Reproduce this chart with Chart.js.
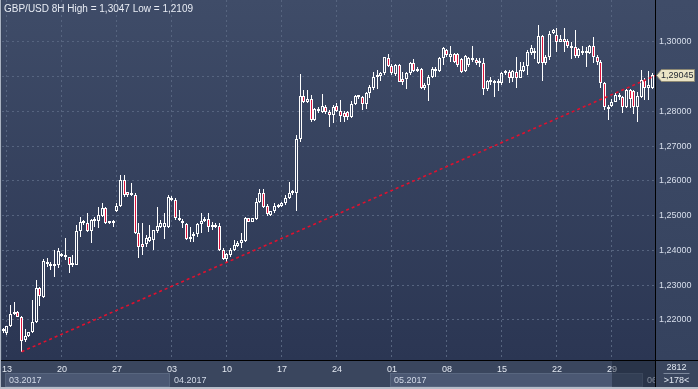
<!DOCTYPE html>
<html>
<head>
<meta charset="utf-8">
<title>GBP/USD 8H</title>
<script src="https://cdn.jsdelivr.net/npm/chart.js@4.4.1/dist/chart.umd.min.js"></script>
<style>
    html, body { margin: 0; padding: 0; background: #3a465e; overflow: hidden; }
    canvas { display: block; }
</style>
</head>
<body>
<canvas id="price-chart" width="698" height="389"></canvas>
<script>
// ============================================
// Chart data: GBP/USD 8-hour candles (10.03.2017 - 01.06.2017)
// ============================================

const opens = [
    1.2169, 1.2164, 1.2183, 1.2217, 1.2223, 1.2210, 1.2143, 1.2154, 1.2165, 1.2194,
    1.2293, 1.2267, 1.2368, 1.2358, 1.2355, 1.2357, 1.2389, 1.2380, 1.2380, 1.2358,
    1.2359, 1.2456, 1.2480, 1.2480, 1.2457, 1.2486, 1.2486, 1.2500, 1.2521, 1.2479,
    1.2484, 1.2514, 1.2528, 1.2603, 1.2567, 1.2566, 1.2559, 1.2449, 1.2418, 1.2418,
    1.2428, 1.2430, 1.2457, 1.2468, 1.2468, 1.2468, 1.2550, 1.2545, 1.2492, 1.2486,
    1.2476, 1.2432, 1.2442, 1.2447, 1.2476, 1.2489, 1.2489, 1.2467, 1.2470, 1.2470,
    1.2401, 1.2376, 1.2387, 1.2401, 1.2414, 1.2421, 1.2427, 1.2492, 1.2483, 1.2491,
    1.2538, 1.2564, 1.2529, 1.2502, 1.2512, 1.2524, 1.2529, 1.2536, 1.2550, 1.2564,
    1.2564, 1.2719, 1.2844, 1.2826, 1.2835, 1.2775, 1.2808, 1.2799, 1.2813, 1.2797,
    1.2789, 1.2815, 1.2801, 1.2794, 1.2797, 1.2785, 1.2821, 1.2844, 1.2842, 1.2820,
    1.2852, 1.2866, 1.2898, 1.2902, 1.2909, 1.2952, 1.2931, 1.2906, 1.2933, 1.2893,
    1.2893, 1.2909, 1.2938, 1.2917, 1.2923, 1.2866, 1.2877, 1.2898, 1.2923, 1.2917,
    1.2952, 1.2975, 1.2957, 1.2964, 1.2964, 1.2950, 1.2916, 1.2933, 1.2954, 1.2947,
    1.2938, 1.2938, 1.2864, 1.2885, 1.2888, 1.2880, 1.2880, 1.2916, 1.2914, 1.2895,
    1.2914, 1.2897, 1.2916, 1.2931, 1.2969, 1.2967, 1.2938, 1.3016, 1.2938, 1.2955,
    1.3024, 1.3019, 1.3000, 1.3007, 1.3003, 1.2981, 1.2984, 1.2959, 1.2974, 1.2967,
    1.2967, 1.2988, 1.2957, 1.2943, 1.2880, 1.2813, 1.2816, 1.2828, 1.2847, 1.2840,
    1.2813, 1.2861, 1.2859, 1.2813, 1.2842, 1.2890, 1.2868, 1.2866
];

const highs = [
    1.2176, 1.2184, 1.2242, 1.2252, 1.2227, 1.2212, 1.2173, 1.2166, 1.2258, 1.2315,
    1.2296, 1.2376, 1.2377, 1.2366, 1.2401, 1.2406, 1.2392, 1.2435, 1.2382, 1.2387,
    1.2473, 1.2497, 1.2488, 1.2507, 1.2489, 1.2497, 1.2526, 1.2535, 1.2526, 1.2481,
    1.2488, 1.2537, 1.2617, 1.2617, 1.2569, 1.2595, 1.2564, 1.2478, 1.2478, 1.2444,
    1.2473, 1.2460, 1.2524, 1.2488, 1.2509, 1.2559, 1.2557, 1.2550, 1.2516, 1.2489,
    1.2478, 1.2468, 1.2454, 1.2478, 1.2509, 1.2497, 1.2509, 1.2483, 1.2480, 1.2480,
    1.2406, 1.2392, 1.2406, 1.2430, 1.2427, 1.2449, 1.2497, 1.2494, 1.2494, 1.2550,
    1.2577, 1.2577, 1.2533, 1.2514, 1.2536, 1.2533, 1.2540, 1.2558, 1.2598, 1.2574,
    1.2732, 1.2907, 1.2861, 1.2861, 1.2847, 1.2810, 1.2813, 1.2850, 1.2818, 1.2804,
    1.2818, 1.2823, 1.2832, 1.2801, 1.2801, 1.2830, 1.2847, 1.2845, 1.2844, 1.2856,
    1.2876, 1.2914, 1.2919, 1.2914, 1.2957, 1.2964, 1.2935, 1.2935, 1.2935, 1.2914,
    1.2914, 1.2941, 1.2950, 1.2928, 1.2925, 1.2880, 1.2904, 1.2928, 1.2928, 1.2957,
    1.2986, 1.2978, 1.2989, 1.2967, 1.2967, 1.2954, 1.2962, 1.2957, 1.2989, 1.2952,
    1.2952, 1.2952, 1.2890, 1.2899, 1.2890, 1.2893, 1.2912, 1.2919, 1.2919, 1.2919,
    1.2957, 1.2943, 1.2943, 1.2976, 1.2992, 1.2981, 1.3047, 1.3020, 1.2962, 1.3031,
    1.3038, 1.3040, 1.3019, 1.3040, 1.3008, 1.3000, 1.3034, 1.2983, 1.2988, 1.2986,
    1.2991, 1.3014, 1.2962, 1.2947, 1.2885, 1.2818, 1.2835, 1.2852, 1.2854, 1.2844,
    1.2864, 1.2864, 1.2861, 1.2856, 1.2919, 1.2895, 1.2917, 1.2909
];

const lows = [
    1.2162, 1.2157, 1.2181, 1.2215, 1.2208, 1.2109, 1.2138, 1.2152, 1.2162, 1.2191,
    1.2241, 1.2262, 1.2353, 1.2344, 1.2323, 1.2349, 1.2382, 1.2373, 1.2334, 1.2353,
    1.2358, 1.2440, 1.2473, 1.2454, 1.2422, 1.2468, 1.2464, 1.2497, 1.2476, 1.2476,
    1.2468, 1.2510, 1.2526, 1.2555, 1.2555, 1.2557, 1.2447, 1.2377, 1.2387, 1.2411,
    1.2425, 1.2401, 1.2449, 1.2464, 1.2433, 1.2464, 1.2543, 1.2488, 1.2486, 1.2464,
    1.2430, 1.2425, 1.2425, 1.2440, 1.2449, 1.2483, 1.2454, 1.2459, 1.2464, 1.2397,
    1.2373, 1.2366, 1.2382, 1.2399, 1.2411, 1.2406, 1.2425, 1.2481, 1.2481, 1.2488,
    1.2536, 1.2523, 1.2500, 1.2500, 1.2507, 1.2523, 1.2526, 1.2531, 1.2548, 1.2559,
    1.2514, 1.2713, 1.2823, 1.2823, 1.2770, 1.2772, 1.2794, 1.2794, 1.2791, 1.2756,
    1.2765, 1.2797, 1.2770, 1.2770, 1.2775, 1.2782, 1.2818, 1.2835, 1.2804, 1.2807,
    1.2839, 1.2861, 1.2864, 1.2888, 1.2904, 1.2928, 1.2904, 1.2902, 1.2883, 1.2877,
    1.2863, 1.2904, 1.2914, 1.2914, 1.2864, 1.2861, 1.2830, 1.2895, 1.2900, 1.2914,
    1.2933, 1.2957, 1.2943, 1.2938, 1.2928, 1.2909, 1.2912, 1.2928, 1.2943, 1.2933,
    1.2928, 1.2847, 1.2857, 1.2876, 1.2842, 1.2858, 1.2876, 1.2904, 1.2880, 1.2885,
    1.2866, 1.2895, 1.2912, 1.2904, 1.2962, 1.2950, 1.2935, 1.2888, 1.2933, 1.2948,
    1.3021, 1.2971, 1.2998, 1.2971, 1.2983, 1.2950, 1.2954, 1.2954, 1.2962, 1.2926,
    1.2964, 1.2938, 1.2933, 1.2866, 1.2804, 1.2775, 1.2813, 1.2826, 1.2832, 1.2794,
    1.2810, 1.2810, 1.2791, 1.2768, 1.2839, 1.2832, 1.2832, 1.2864
];

const closes = [
    1.2171, 1.2183, 1.2217, 1.2219, 1.2210, 1.2141, 1.2154, 1.2165, 1.2194, 1.2291,
    1.2269, 1.2370, 1.2360, 1.2355, 1.2357, 1.2397, 1.2385, 1.2384, 1.2357, 1.2359,
    1.2456, 1.2481, 1.2481, 1.2457, 1.2488, 1.2487, 1.2502, 1.2523, 1.2478, 1.2478,
    1.2478, 1.2528, 1.2603, 1.2558, 1.2559, 1.2559, 1.2449, 1.2411, 1.2411, 1.2435,
    1.2438, 1.2459, 1.2470, 1.2478, 1.2478, 1.2553, 1.2545, 1.2492, 1.2488, 1.2478,
    1.2432, 1.2440, 1.2447, 1.2476, 1.2485, 1.2486, 1.2467, 1.2470, 1.2468, 1.2401,
    1.2375, 1.2389, 1.2401, 1.2416, 1.2421, 1.2430, 1.2494, 1.2483, 1.2492, 1.2538,
    1.2564, 1.2526, 1.2504, 1.2512, 1.2529, 1.2531, 1.2536, 1.2552, 1.2564, 1.2567,
    1.2719, 1.2844, 1.2826, 1.2835, 1.2775, 1.2808, 1.2801, 1.2815, 1.2797, 1.2789,
    1.2813, 1.2801, 1.2787, 1.2785, 1.2785, 1.2821, 1.2844, 1.2842, 1.2820, 1.2852,
    1.2869, 1.2898, 1.2904, 1.2909, 1.2955, 1.2931, 1.2909, 1.2933, 1.2885, 1.2885,
    1.2909, 1.2938, 1.2917, 1.2923, 1.2866, 1.2877, 1.2900, 1.2923, 1.2917, 1.2952,
    1.2983, 1.2962, 1.2964, 1.2943, 1.2933, 1.2914, 1.2960, 1.2952, 1.2947, 1.2938,
    1.2941, 1.2864, 1.2888, 1.2890, 1.2880, 1.2887, 1.2909, 1.2909, 1.2895, 1.2916,
    1.2897, 1.2919, 1.2931, 1.2971, 1.2983, 1.2971, 1.3016, 1.2938, 1.2957, 1.3022,
    1.3035, 1.2998, 1.3007, 1.2998, 1.2989, 1.2989, 1.2959, 1.2978, 1.2967, 1.2974,
    1.2988, 1.2957, 1.2943, 1.2880, 1.2813, 1.2806, 1.2828, 1.2847, 1.2840, 1.2813,
    1.2861, 1.2835, 1.2813, 1.2844, 1.2890, 1.2866, 1.2877, 1.29045
];

// First candle of each week and its day-of-month label
const weekTickIndex = [1, 16, 31, 46, 61, 76, 91, 106, 121, 136, 151, 166];
const weekTickLabels = ['13', '20', '27', '03', '10', '17', '24', '01', '08', '15', '22', '29'];

// Month band under the day labels
const monthLabels = ['03.2017', '04.2017', '05.2017', '06.2017'];
const monthStartIndex = [1, 46, 106, 175];

// Price axis ticks
const priceTicks = [1.22, 1.23, 1.24, 1.25, 1.26, 1.27, 1.28, 1.29, 1.30];

// Support line drawn from the March low
const trendIndex = [5, 177.73];
const trendValue = [1.2109, 1.2902];

const symbolName = 'GBP/USD 8H';
const cornerCounter = '2812';

// ============================================
// Colours
// ============================================

const CANDLE_LINE = '#ffffff';
const CANDLE_DOWN = '#dc143c';
const GRID_COLOR = '#56647f';
const LABEL_COLOR = '#d8dfec';

Chart.defaults.font.family = "'Liberation Sans', Arial, sans-serif";

// ============================================
// Utility Functions
// ============================================

// Price with a comma as decimal separator
function formatPrice(value, digits) {
    return value.toFixed(digits).replace('.', ',');
}

// Candle bodies as floating bars [open, close]
function buildBodies() {
    return closes.map((close, i) => ({ x: i, y: [opens[i], close] }));
}

// Upper and lower shadows as thin floating bars
function buildWicks() {
    const wicks = [];
    closes.forEach((close, i) => {
        const top = Math.max(opens[i], close);
        const bottom = Math.min(opens[i], close);
        if (highs[i] > top) wicks.push({ x: i, y: [top, highs[i]] });
        if (lows[i] < bottom) wicks.push({ x: i, y: [lows[i], bottom] });
    });
    return wicks;
}

// ============================================
// Plugins
// ============================================

// Snap candle bars onto whole pixels so they stay crisp
const pixelSnap = {
    id: 'pixelSnap',
    afterDatasetsUpdate(chart) {
        chart.data.datasets.forEach((dataset, index) => {
            if (dataset.type === 'line') return;
            chart.getDatasetMeta(index).data.forEach(bar => {
                bar.x = Math.floor(bar.x) + 0.5;
                bar.y = Math.round(bar.y);
                bar.base = Math.round(bar.base);
            });
        });
    }
};

// Backgrounds of plot, price axis and month band
const chartBackground = {
    id: 'chartBackground',
    beforeDraw(chart) {
        const { ctx, chartArea: area, width, height } = chart;
        const xScale = chart.scales.x;
        const half = (xScale.getPixelForValue(1) - xScale.getPixelForValue(0)) / 2;
        ctx.save();

        ctx.fillStyle = '#3a465e';
        ctx.fillRect(0, 0, width, height);

        let gradient = ctx.createLinearGradient(0, 0, 0, area.bottom);
        gradient.addColorStop(0, '#3f4c68');
        gradient.addColorStop(1, '#35425e');
        ctx.fillStyle = gradient;
        ctx.fillRect(area.right, 0, width - area.right, area.bottom);

        gradient = ctx.createLinearGradient(0, area.top, 0, area.bottom);
        gradient.addColorStop(0, '#3f4c68');
        gradient.addColorStop(1, '#2b3653');
        ctx.fillStyle = gradient;
        ctx.fillRect(area.left, area.top, area.right - area.left, area.bottom - area.top);

        // Every other month gets a lighter box
        monthStartIndex.forEach((start, i) => {
            if (i % 2 !== 0) return;
            const left = Math.round(xScale.getPixelForValue(start) - half);
            const next = monthStartIndex[i + 1];
            const right = next !== undefined ? Math.round(xScale.getPixelForValue(next) - half) : area.right;
            ctx.fillStyle = '#4b5873';
            ctx.fillRect(left, area.bottom + 13, Math.min(right, area.right) - left, 14);
            ctx.strokeStyle = '#58667f';
            ctx.lineWidth = 1;
            ctx.strokeRect(left + 0.5, area.bottom + 13.5, Math.min(right, area.right) - left - 1, 13);
        });
        ctx.restore();
    }
};

// Frame lines, month names, price tag, header and corner counter
const chartDecorations = {
    id: 'chartDecorations',
    afterDraw(chart) {
        const { ctx, chartArea: area, width, height } = chart;
        const xScale = chart.scales.x;
        const yScale = chart.scales.y;
        const half = (xScale.getPixelForValue(1) - xScale.getPixelForValue(0)) / 2;
        ctx.save();
        ctx.font = "9px 'Liberation Sans', Arial, sans-serif";
        ctx.textBaseline = 'middle';

        // Month names, clipped to the time axis
        ctx.save();
        ctx.beginPath();
        ctx.rect(0, area.bottom, area.right, height - area.bottom);
        ctx.clip();
        ctx.fillStyle = '#d2dae8';
        ctx.textAlign = 'left';
        monthStartIndex.forEach((start, i) => {
            const left = xScale.getPixelForValue(start) - half;
            ctx.fillText(monthLabels[i], Math.round(left) + 4, area.bottom + 20.5);
        });
        ctx.restore();

        // Shaded end of the time axis
        const shadeLeft = Math.round(xScale.getPixelForValue(weekTickIndex[weekTickIndex.length - 1]));
        ctx.fillStyle = 'rgba(20, 28, 46, 0.42)';
        ctx.fillRect(shadeLeft, area.bottom + 1, area.right - shadeLeft, height - area.bottom - 3);

        // Black separators
        ctx.strokeStyle = '#000000';
        ctx.lineWidth = 1;
        ctx.beginPath();
        ctx.moveTo(area.right + 0.5, 0);
        ctx.lineTo(area.right + 0.5, height - 2);
        ctx.moveTo(0, area.bottom + 0.5);
        ctx.lineTo(width, area.bottom + 0.5);
        ctx.stroke();

        // Corner counter
        const cornerX = area.right + (width - area.right) / 2;
        ctx.textAlign = 'center';
        ctx.fillStyle = '#e2e8f2';
        ctx.fillText(cornerCounter, cornerX, area.bottom + 7.5);
        ctx.fillText('>' + closes.length + '<', cornerX, area.bottom + 20.5);
        ctx.strokeStyle = '#7c889c';
        ctx.beginPath();
        ctx.moveTo(cornerX - 13, area.bottom + 13.5);
        ctx.lineTo(cornerX + 13, area.bottom + 13.5);
        ctx.stroke();

        // Last price tag
        const lastPrice = closes[closes.length - 1];
        const tagY = Math.round(yScale.getPixelForValue(lastPrice));
        const tagLeft = area.right + 1;
        ctx.fillStyle = '#ebe4c6';
        ctx.strokeStyle = '#8f8a74';
        ctx.beginPath();
        ctx.moveTo(tagLeft + 0.5, tagY + 0.5);
        ctx.lineTo(tagLeft + 5.5, tagY - 5.5);
        ctx.lineTo(width - 3.5, tagY - 5.5);
        ctx.lineTo(width - 3.5, tagY + 6.5);
        ctx.lineTo(tagLeft + 5.5, tagY + 6.5);
        ctx.closePath();
        ctx.fill();
        ctx.stroke();
        ctx.fillStyle = '#1e2430';
        ctx.textAlign = 'left';
        ctx.fillText(formatPrice(lastPrice, 5), tagLeft + 5, tagY + 1);

        // Header with the range of the visible candles
        ctx.font = "10px 'Liberation Sans', Arial, sans-serif";
        ctx.textBaseline = 'alphabetic';
        ctx.fillStyle = '#e8ecf4';
        const header = symbolName + ' High = ' + formatPrice(Math.max(...highs), 4) +
            ' Low = ' + formatPrice(Math.min(...lows), 4);
        ctx.fillText(header, 4, 11.5);

        // Window frame
        ctx.fillStyle = '#aab3c2';
        ctx.fillRect(0, 0, 1, height);
        ctx.fillStyle = '#b6bdc9';
        ctx.fillRect(0, height - 2, width, 2);
        ctx.restore();
    }
};

// ============================================
// Chart
// ============================================

const gridOptions = { color: GRID_COLOR, drawTicks: false, offset: false };
const borderOptions = { display: false, dash: [2, 3] };

const canvas = document.getElementById('price-chart').getContext('2d');

new Chart(canvas, {
    type: 'bar',
    data: {
        datasets: [
            {
                type: 'line',
                data: trendIndex.map((x, i) => ({ x: x, y: trendValue[i] })),
                borderColor: '#e0102e',
                borderWidth: 1.6,
                borderDash: [3, 3],
                pointRadius: 0,
                fill: false,
                order: 0
            },
            {
                data: buildBodies(),
                backgroundColor: closes.map((close, i) => close < opens[i] ? CANDLE_DOWN : 'rgba(0,0,0,0)'),
                borderColor: CANDLE_LINE,
                borderWidth: 1,
                borderSkipped: false,
                barThickness: 3,
                minBarLength: 2,
                inflateAmount: 0,
                grouped: false,
                order: 1
            },
            {
                data: buildWicks(),
                backgroundColor: CANDLE_LINE,
                borderWidth: 0,
                barThickness: 1,
                inflateAmount: 0,
                grouped: false,
                order: 2
            }
        ]
    },
    options: {
        responsive: false,
        devicePixelRatio: 1,
        animation: false,
        events: [],
        layout: { padding: { left: 2, top: 0, right: 0, bottom: 2 } },
        plugins: {
            legend: { display: false },
            tooltip: { enabled: false }
        },
        scales: {
            x: {
                type: 'linear',
                min: -0.36,
                max: 177.73,
                offset: false,
                grid: gridOptions,
                border: borderOptions,
                ticks: {
                    color: '#e4e9f2',
                    font: { size: 9 },
                    padding: 4,
                    autoSkip: false,
                    maxRotation: 0,
                    minRotation: 0,
                    callback: value => weekTickLabels[weekTickIndex.indexOf(value)]
                },
                afterBuildTicks: axis => {
                    axis.ticks = weekTickIndex.map(value => ({ value: value }));
                },
                afterFit: axis => {
                    axis.height = 27;
                    axis.paddingLeft = 0;
                    axis.paddingRight = 0;
                }
            },
            y: {
                type: 'linear',
                position: 'right',
                min: 1.2085,
                max: 1.3120,
                grid: gridOptions,
                border: borderOptions,
                ticks: {
                    color: LABEL_COLOR,
                    font: { size: 9 },
                    padding: 4,
                    callback: value => formatPrice(value, 5)
                },
                afterBuildTicks: axis => {
                    axis.ticks = priceTicks.map(value => ({ value: value }));
                },
                afterFit: axis => {
                    axis.width = 43;
                    axis.paddingTop = 0;
                    axis.paddingBottom = 0;
                }
            }
        }
    },
    plugins: [pixelSnap, chartBackground, chartDecorations]
});
</script>
</body>
</html>
